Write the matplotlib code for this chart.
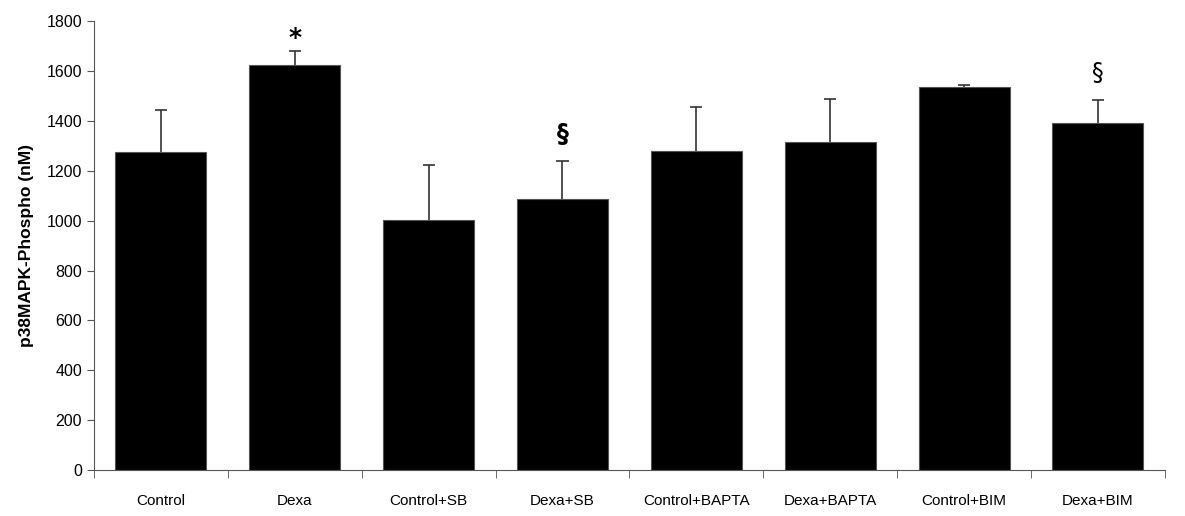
import matplotlib
matplotlib.use("Agg")
import matplotlib.pyplot as plt
import numpy as np

groups = ["Control", "Dexa", "Control+SB", "Dexa+SB",
          "Control+BAPTA", "Dexa+BAPTA", "Control+BIM", "Dexa+BIM"]
means = [1276, 1624, 1001, 1088, 1280, 1316, 1537, 1393]
errors = [166, 56, 222, 152, 175, 173, 7, 92]
marks = ["", "*", "", "§", "", "", "", "§"]

plt.rcParams["font.family"] = ["Liberation Sans", "DejaVu Sans"]

fig = plt.figure(figsize=(11.85, 5.16), dpi=100)
ax = fig.add_axes([0.0793, 0.0891, 0.9037, 0.8699])

x = np.arange(len(groups))
tops = np.array(means) + np.array(errors)
ax.bar(x, means, width=0.68, color="black", edgecolor="#555555", linewidth=0.8, zorder=2)
# upper half error bars only, no cap at the bar top
ax.vlines(x, means, tops, color="#333333", linewidth=1.2, zorder=1)
ax.hlines(tops, x - 0.045, x + 0.045, color="#333333", linewidth=1.2, zorder=1)

for xi, m, e, s in zip(x, means, errors, marks):
    if not s:
        continue
    if s == "*":
        ax.text(xi, m + e + 5, s, ha="center", va="bottom", fontsize=18,
                fontweight="bold", family="DejaVu Sans")
    else:
        ax.text(xi, m + e + 60, s, ha="center", va="bottom", fontsize=17,
                fontweight="bold" if xi == 3 else "normal", family="DejaVu Sans")

ax.set_xlim(-0.5, len(groups) - 0.5)
ax.set_ylim(0, 1800)
ax.set_yticks(range(0, 1801, 200))
ax.set_xticks(x)
ax.set_xticklabels(groups, fontsize=11)
ax.tick_params(axis="x", length=0, pad=17)
ax.set_xticks(np.arange(-0.5, len(groups)), minor=True)
ax.tick_params(axis="x", which="minor", length=6, color="#555555")
ax.tick_params(axis="y", labelsize=11.5, length=5, color="#555555")

for side in ["top", "right"]:
    ax.spines[side].set_visible(False)
for side in ["left", "bottom"]:
    ax.spines[side].set_color("#555555")

ax.set_ylabel("p38MAPK-Phospho (nM)", fontsize=12.5, fontweight="bold", labelpad=9)

fig.savefig("out.png", dpi=100)
